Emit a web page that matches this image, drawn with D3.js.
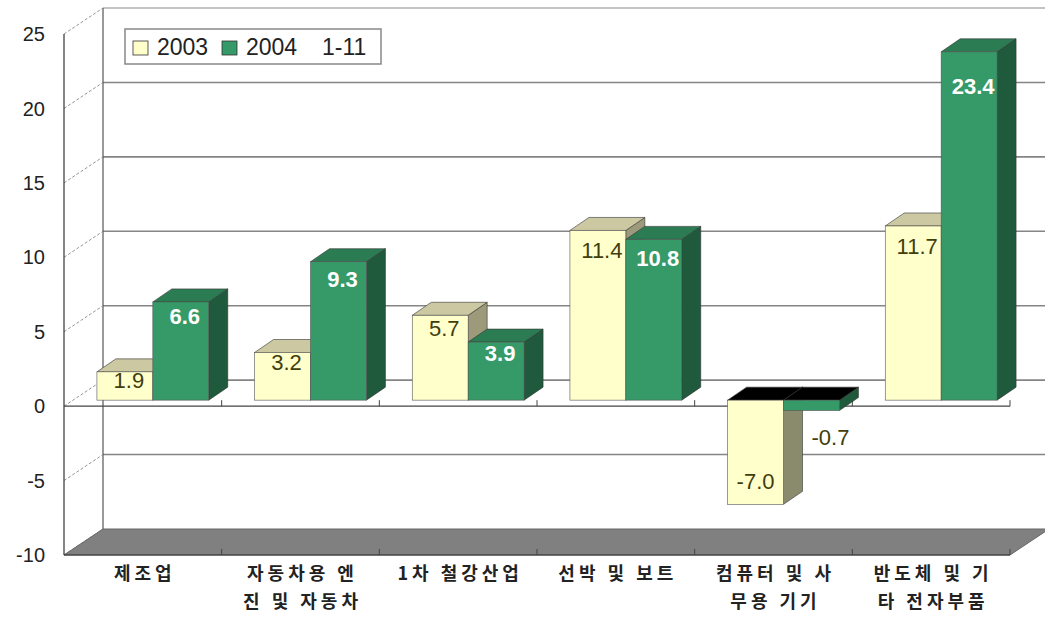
<!DOCTYPE html>
<html>
<head>
<meta charset="utf-8">
<script src="https://cdn.jsdelivr.net/npm/d3@7"></script>
<style>
  body { margin: 0; background: #fff; }
  svg { display: block; }
  text { font-family: Arial, "Liberation Sans", sans-serif; }
  .cat { font-family: "Noto Sans CJK KR", sans-serif; font-weight: bold; }
</style>
</head>
<body>
<div id="chart"></div>
<script>
'use strict';

// chart data
const categories = ["제조업", "자동차용 엔\n진 및 자동차", "1차 철강산업", "선박 및 보트", "컴퓨터 및 사\n무용 기기", "반도체 및 기\n타 전자부품"];
const seriesNames = ["2003", "2004  1-11"];
const values2003 = [1.9, 3.2, 5.7, 11.4, -7.0, 11.7];
const values2004 = [6.6, 9.3, 3.9, 10.8, -0.7, 23.4];
const yTicks = [-10, -5, 0, 5, 10, 15, 20, 25];

const width = 1045, height = 617;
const wall = { dx: 39, dy: -26 };     // back wall offset
const front = { dx: 10, dy: -6 };     // bar front plane offset
const depth = { dx: 19, dy: -13 };    // bar depth

const colors = [
  { front: "#ffffcc", top: "#ccc9a2", side: "#9c9a7a", negSide: "#8a8a6c", label: "#3f3e0c" },
  { front: "#359a68", top: "#2b7c53", side: "#1f5a3d", negSide: "#1f5a3d", label: "#ffffff" }
];

const svg = d3.select("#chart").append("svg")
  .attr("width", width)
  .attr("height", height);

const x = d3.scaleBand().domain(d3.range(categories.length)).range([64, 1010]);
const xs = d3.scaleBand().domain([0, 1]).range([0, x.bandwidth()]).paddingOuter(0.41);
const y = d3.scaleLinear().domain([-10, 25]).range([555, 34]);

const poly = pts => "M" + pts.map(p => p.join(",")).join("L") + "Z";
const x0 = x.range()[0], x1 = x.range()[1];

// back wall gridlines
svg.selectAll(".grid").data(yTicks.filter(d => d > -10)).enter().append("line")
  .attr("x1", x0 + wall.dx).attr("x2", x1 + wall.dx)
  .attr("y1", d => y(d) + wall.dy).attr("y2", d => y(d) + wall.dy)
  .attr("stroke", d => d === 25 ? "#b0b0b0" : "#858585").attr("stroke-width", 1.6);

// back wall left edge
svg.append("line")
  .attr("x1", x0 + wall.dx).attr("x2", x0 + wall.dx)
  .attr("y1", y(25) + wall.dy).attr("y2", y(-10) + wall.dy)
  .attr("stroke", "#555").attr("stroke-width", 1.2);

// side wall diagonals
svg.selectAll(".diag").data(yTicks).enter().append("line")
  .attr("x1", x0).attr("x2", x0 + wall.dx)
  .attr("y1", d => y(d)).attr("y2", d => y(d) + wall.dy)
  .attr("stroke", "#888").attr("stroke-width", 0.9)
  .attr("stroke-dasharray", "3,2");

// floor
svg.append("path")
  .attr("d", poly([[x0, y(-10)], [x1, y(-10)], [x1 + wall.dx, y(-10) + wall.dy], [x0 + wall.dx, y(-10) + wall.dy]]))
  .attr("fill", "#808080").attr("stroke", "#666").attr("stroke-width", 1);

// front axes
svg.append("line")
  .attr("x1", x0).attr("x2", x0).attr("y1", y(25)).attr("y2", y(-10))
  .attr("stroke", "#333").attr("stroke-width", 1.2);
svg.append("line")
  .attr("x1", x0).attr("x2", x1).attr("y1", y(0)).attr("y2", y(0))
  .attr("stroke", "#444").attr("stroke-width", 1.4);
svg.append("line")
  .attr("x1", x0).attr("x2", x1).attr("y1", y(-10)).attr("y2", y(-10))
  .attr("stroke", "#333").attr("stroke-width", 1.2);

const bounds = d3.range(categories.length + 1).map(i => x0 + i * x.step());
[y(0), y(-10)].forEach(yy => {
  svg.selectAll(null).data(bounds.slice(1)).enter().append("line")
    .attr("x1", d => d).attr("x2", d => d)
    .attr("y1", yy).attr("y2", yy - 6)
    .attr("stroke", "#444").attr("stroke-width", 1);
});

// y tick labels
svg.selectAll(".ytick").data(yTicks).enter().append("text")
  .attr("x", 45).attr("y", d => y(d))
  .attr("dy", "0.36em")
  .attr("text-anchor", "end")
  .attr("font-size", 20)
  .attr("fill", "#222")
  .text(d => d);

// bars
const barW = xs.bandwidth();
const bars = [];
categories.forEach((c, i) => {
  [values2003[i], values2004[i]].forEach((v, s) => bars.push({ i, s, v }));
});

const g = svg.append("g");
bars.forEach(b => {
  const c = colors[b.s];
  const bx = x(b.i) + xs(b.s) + front.dx;
  const ye = y(b.v) + front.dy, y0 = y(0) + front.dy;
  const top = Math.min(ye, y0), bot = Math.max(ye, y0);
  const bg = g.append("g");
  // side
  bg.append("path")
    .attr("d", poly([[bx + barW, top], [bx + barW + depth.dx, top + depth.dy], [bx + barW + depth.dx, bot + depth.dy], [bx + barW, bot]]))
    .attr("fill", b.v < 0 ? c.negSide : c.side).attr("stroke", "#333").attr("stroke-width", 0.6);
  // top
  bg.append("path")
    .attr("d", poly([[bx, top], [bx + barW, top], [bx + barW + depth.dx, top + depth.dy], [bx + depth.dx, top + depth.dy]]))
    .attr("fill", b.v < 0 ? "#000" : c.top).attr("stroke", "#333").attr("stroke-width", 0.6);
  // front
  bg.append("rect")
    .attr("x", bx).attr("y", top).attr("width", barW).attr("height", bot - top)
    .attr("fill", c.front).attr("stroke", "#555").attr("stroke-width", 0.6);
});

// value labels
bars.forEach(b => {
  const c = colors[b.s];
  const cx = x(b.i) + xs(b.s) + front.dx + barW / 2;
  let lx = cx + 4, ly;
  let fill = c.label;
  if (b.v >= 0) {
    ly = y(b.v * 0.92);
  } else if (b.v > -2) {
    lx = cx + 19; ly = y(0) + 31; fill = colors[0].label;
  } else {
    lx = cx; ly = y(b.v * 0.72);
  }
  svg.append("text")
    .attr("x", lx).attr("y", ly)
    .attr("dy", "0.36em")
    .attr("text-anchor", "middle")
    .attr("font-size", 22)
    .attr("font-weight", b.s === 1 && b.v >= 0 ? "bold" : "normal")
    .attr("fill", fill)
    .text(b.v.toFixed(1));
});

// category labels
categories.forEach((c, i) => {
  const t = svg.append("text")
    .attr("class", "cat")
    .attr("x", x(i) + x.bandwidth() / 2)
    .attr("y", 574)
    .attr("text-anchor", "middle")
    .attr("font-size", 18)
    .attr("letter-spacing", "4px")
    .attr("fill", "#222");
  c.split("\n").forEach((line, k) => {
    t.append("tspan")
      .attr("x", x(i) + x.bandwidth() / 2 + 2)
      .attr("dy", k === 0 ? "0.35em" : 28)
      .text(line);
  });
});

// legend
const lg = svg.append("g").attr("transform", "translate(125,29)");
lg.append("rect")
  .attr("width", 256).attr("height", 35)
  .attr("fill", "#fff").attr("stroke", "#888").attr("stroke-width", 1.5);
const legX = [8, 97];
seriesNames.forEach((name, s) => {
  lg.append("rect")
    .attr("x", legX[s]).attr("y", 12)
    .attr("width", 15).attr("height", 14)
    .attr("fill", colors[s].front).attr("stroke", "#333").attr("stroke-width", 0.8);
  lg.append("text")
    .attr("x", legX[s] + 24).attr("y", 26)
    .attr("font-size", 23)
    .attr("word-spacing", "6px")
    .attr("fill", "#222")
    .style("white-space", "pre")
    .text(name);
});
</script>
</body>
</html>
